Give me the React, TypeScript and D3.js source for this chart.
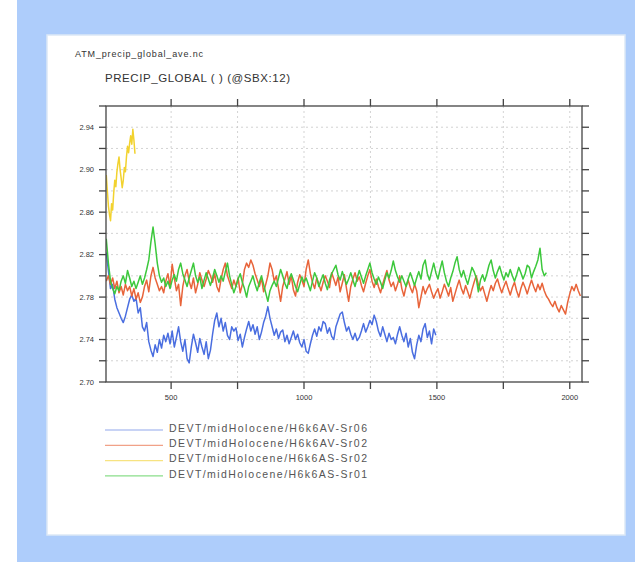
import React, { useEffect, useRef } from "react";
import * as d3 from "d3";

// yearly-mean global precip, sampled every few model years
const blueStart = 256, blueStep = 8;
const blueVals = [
  2.822, 2.805, 2.788, 2.792, 2.778, 2.770, 2.765, 2.760, 2.756, 2.762, 2.770, 2.778, 2.782, 2.776, 2.779, 2.765,
  2.770, 2.752, 2.748, 2.756, 2.738, 2.730, 2.724, 2.735, 2.728, 2.740, 2.732, 2.744, 2.738, 2.746, 2.736, 2.748,
  2.733, 2.742, 2.752, 2.738, 2.729, 2.740, 2.722, 2.718, 2.733, 2.745, 2.737, 2.728, 2.741, 2.733, 2.726, 2.738,
  2.722, 2.730, 2.745, 2.758, 2.765, 2.752, 2.760, 2.748, 2.756, 2.744, 2.740, 2.752, 2.748, 2.751, 2.739, 2.745,
  2.733, 2.742, 2.750, 2.757, 2.748, 2.754, 2.745, 2.752, 2.740, 2.747, 2.756, 2.762, 2.771, 2.760, 2.752, 2.744,
  2.750, 2.741, 2.747, 2.749, 2.738, 2.744, 2.736, 2.742, 2.748, 2.740, 2.745, 2.737, 2.733, 2.740, 2.729, 2.727,
  2.736, 2.744, 2.750, 2.743, 2.752, 2.748, 2.757, 2.755, 2.746, 2.751, 2.743, 2.740, 2.752, 2.758, 2.764, 2.766,
  2.756, 2.748, 2.752, 2.745, 2.740, 2.746, 2.739, 2.742, 2.748, 2.755, 2.747, 2.752, 2.758, 2.754, 2.763, 2.757,
  2.748, 2.743, 2.752, 2.745, 2.738, 2.746, 2.740, 2.742, 2.736, 2.745, 2.752, 2.744, 2.738, 2.746, 2.733, 2.741,
  2.728, 2.722, 2.735, 2.744, 2.738, 2.750, 2.755, 2.742, 2.748, 2.736, 2.750, 2.744,
];

const redStart = 256, redStep = 8;
const redVals = [
  2.795, 2.800, 2.792, 2.798, 2.788, 2.795, 2.784, 2.790, 2.782, 2.792, 2.786, 2.790, 2.781, 2.788, 2.778, 2.784,
  2.775, 2.780, 2.790, 2.796, 2.785, 2.800, 2.808, 2.798, 2.792, 2.786, 2.790, 2.784, 2.795, 2.802, 2.790, 2.811,
  2.798, 2.786, 2.792, 2.772, 2.790, 2.800, 2.806, 2.795, 2.788, 2.798, 2.784, 2.792, 2.803, 2.796, 2.790, 2.797,
  2.805, 2.800, 2.794, 2.802, 2.790, 2.785, 2.797, 2.806, 2.812, 2.800, 2.794, 2.788, 2.796, 2.790, 2.798, 2.784,
  2.792, 2.806, 2.812, 2.808, 2.815, 2.810, 2.802, 2.796, 2.790, 2.798, 2.785, 2.792, 2.800, 2.812, 2.806, 2.795,
  2.800, 2.788, 2.776, 2.790, 2.797, 2.804, 2.792, 2.800, 2.787, 2.781, 2.794, 2.801, 2.796, 2.790, 2.806, 2.815,
  2.802, 2.794, 2.788, 2.798, 2.792, 2.786, 2.794, 2.800, 2.795, 2.789, 2.803, 2.797, 2.791, 2.799, 2.785, 2.793,
  2.801, 2.788, 2.776, 2.790, 2.797, 2.803, 2.795, 2.799, 2.791, 2.785, 2.793, 2.800, 2.806, 2.795, 2.789, 2.797,
  2.790, 2.784, 2.792, 2.799, 2.805, 2.796, 2.790, 2.794, 2.786, 2.792, 2.800, 2.788, 2.781, 2.790, 2.796, 2.789,
  2.784, 2.792, 2.786, 2.770, 2.780, 2.790, 2.783, 2.788, 2.792, 2.785, 2.779, 2.784, 2.788, 2.779, 2.785, 2.792,
  2.787, 2.781, 2.789, 2.776, 2.783, 2.790, 2.796, 2.788, 2.783, 2.791, 2.785, 2.779, 2.787, 2.794, 2.800, 2.792,
  2.786, 2.790, 2.783, 2.776, 2.784, 2.791, 2.786, 2.793, 2.797, 2.790, 2.784, 2.790, 2.795, 2.788, 2.782, 2.789,
  2.794, 2.786, 2.780, 2.788, 2.794, 2.789, 2.783, 2.790, 2.796, 2.790, 2.785, 2.792, 2.787, 2.793, 2.786, 2.781,
  2.778, 2.774, 2.771, 2.776, 2.770, 2.766, 2.772, 2.768, 2.764, 2.775, 2.783, 2.790, 2.786, 2.792, 2.786, 2.781,
];

const yellowStart = 256, yellowStep = 4;
const yellowVals = [
  2.895, 2.880, 2.866, 2.858, 2.852, 2.868, 2.862, 2.878, 2.890, 2.884, 2.898, 2.906, 2.912, 2.900, 2.892, 2.883,
  2.890, 2.902, 2.898, 2.912, 2.922, 2.916, 2.925, 2.932, 2.924, 2.938, 2.928, 2.915,
];

const greenStart = 256, greenStep = 8;
const greenVals = [
  2.835, 2.812, 2.795, 2.788, 2.783, 2.790, 2.786, 2.795, 2.800, 2.793, 2.805, 2.798, 2.790, 2.795, 2.788, 2.794,
  2.800, 2.792, 2.798, 2.806, 2.815, 2.832, 2.846, 2.830, 2.812, 2.800, 2.794, 2.798, 2.790, 2.795, 2.788, 2.796,
  2.801, 2.795, 2.806, 2.812, 2.802, 2.796, 2.790, 2.798, 2.805, 2.812, 2.800, 2.794, 2.799, 2.788, 2.796, 2.803,
  2.797, 2.791, 2.798, 2.806, 2.800, 2.794, 2.800, 2.795, 2.804, 2.812, 2.800, 2.792, 2.784, 2.790, 2.797, 2.802,
  2.794, 2.788, 2.780, 2.790, 2.795, 2.800, 2.792, 2.786, 2.794, 2.800, 2.792, 2.784, 2.776, 2.786, 2.791, 2.795,
  2.790, 2.798, 2.806, 2.800, 2.793, 2.788, 2.797, 2.802, 2.796, 2.790, 2.785, 2.792, 2.799, 2.794, 2.798, 2.792,
  2.786, 2.795, 2.803, 2.798, 2.790, 2.796, 2.801, 2.793, 2.787, 2.796, 2.802, 2.806, 2.810, 2.801, 2.796, 2.804,
  2.798, 2.792, 2.797, 2.803, 2.796, 2.790, 2.798, 2.805, 2.799, 2.793, 2.800, 2.806, 2.812, 2.803, 2.797, 2.792,
  2.799, 2.794, 2.788, 2.796, 2.803, 2.798, 2.805, 2.814, 2.805, 2.799, 2.794, 2.800, 2.795, 2.790, 2.797, 2.803,
  2.797, 2.791, 2.798, 2.804, 2.797, 2.810, 2.815, 2.802, 2.796, 2.804, 2.812, 2.803, 2.797, 2.806, 2.814, 2.803,
  2.795, 2.790, 2.798, 2.804, 2.812, 2.818, 2.806, 2.799, 2.805, 2.798, 2.792, 2.800, 2.808, 2.804, 2.798, 2.785,
  2.796, 2.801, 2.795, 2.802, 2.810, 2.815, 2.805, 2.798, 2.804, 2.809, 2.802, 2.796, 2.803, 2.799, 2.806, 2.800,
  2.795, 2.801, 2.808, 2.803, 2.797, 2.802, 2.810, 2.808, 2.798, 2.804, 2.809, 2.815, 2.826, 2.806, 2.800, 2.803,
];

const seriesNames = [
  "DEVT/midHolocene/H6k6AV-Sr06",
  "DEVT/midHolocene/H6k6AV-Sr02",
  "DEVT/midHolocene/H6k6AS-Sr02",
  "DEVT/midHolocene/H6k6AS-Sr01",
];
const seriesColors = ["#4a6ee0", "#e8643a", "#f2d22e", "#3cc83c"];

const xMajorTicks = [500, 1000, 1500, 2000];
const xMinorTicks = [500, 750, 1000, 1250, 1500, 1750, 2000];
const yMajorTicks = [2.70, 2.74, 2.78, 2.82, 2.86, 2.90, 2.94];
const yMinorTicks = [2.70, 2.72, 2.74, 2.76, 2.78, 2.80, 2.82, 2.84, 2.86, 2.88, 2.90, 2.92, 2.94, 2.96];

const fileTitle = "ATM_precip_global_ave.nc";
const varTitle = "PRECIP_GLOBAL ( ) (@SBX:12)";

const App = () => {
  const svgRef = useRef<SVGSVGElement>(null);

  useEffect(() => {
    const width = 635;
    const height = 562;
    const plot = { left: 106, right: 582, top: 106, bottom: 382 };
    const font = "'Liberation Sans', Arial, sans-serif";

    const svg = d3.select(svgRef.current);
    svg.selectAll("*").remove();
    svg.attr("width", width).attr("height", height);

    // page background + panel
    svg.append("rect").attr("x", 17).attr("y", 0).attr("width", width - 17).attr("height", height).attr("fill", "#aecdfb");
    svg.append("rect").attr("x", 47).attr("y", 35).attr("width", 578).attr("height", 500)
      .attr("fill", "#ffffff").attr("stroke", "#dce8f6").attr("stroke-width", 1.5);

    const x = d3.scaleLinear().domain([255, 2046]).range([plot.left, plot.right]);
    const y = d3.scaleLinear().domain([2.70, 2.96]).range([plot.bottom, plot.top]);

    // grid
    const grid = svg.append("g").attr("stroke", "#c8c8c8").attr("stroke-width", 0.8).attr("stroke-dasharray", "2,3");
    grid.selectAll(".gx").data(xMinorTicks).join("line")
      .attr("x1", d => x(d)).attr("x2", d => x(d)).attr("y1", plot.top).attr("y2", plot.bottom);
    grid.selectAll(".gy").data(yMinorTicks.filter(d => d > 2.705 && d < 2.955)).join("line")
      .attr("y1", d => y(d)).attr("y2", d => y(d)).attr("x1", plot.left).attr("x2", plot.right);

    // series
    const toPts = (start: number, step: number, vals: number[]) => vals.map((v, i) => [start + step * i, v] as [number, number]);
    const all = [
      toPts(blueStart, blueStep, blueVals),
      toPts(redStart, redStep, redVals),
      toPts(yellowStart, yellowStep, yellowVals),
      toPts(greenStart, greenStep, greenVals),
    ];
    const line = d3.line<[number, number]>().x(d => x(d[0])).y(d => y(d[1]));
    const clip = svg.append("clipPath").attr("id", "plotclip");
    clip.append("rect").attr("x", plot.left).attr("y", plot.top).attr("width", plot.right - plot.left).attr("height", plot.bottom - plot.top);
    const lines = svg.append("g").attr("clip-path", "url(#plotclip)");
    all.forEach((pts, i) => {
      lines.append("path").attr("d", line(pts)).attr("fill", "none")
        .attr("stroke", seriesColors[i]).attr("stroke-width", 1.5).attr("stroke-linejoin", "round");
    });

    // frame and ticks (outward on all four sides)
    const axis = svg.append("g").attr("stroke", "#444").attr("stroke-width", 1.3);
    axis.append("rect").attr("x", plot.left).attr("y", plot.top)
      .attr("width", plot.right - plot.left).attr("height", plot.bottom - plot.top).attr("fill", "none");
    const tl = 7;
    axis.selectAll(".tb").data(xMinorTicks).join("line")
      .attr("x1", d => x(d)).attr("x2", d => x(d)).attr("y1", plot.bottom).attr("y2", plot.bottom + tl);
    axis.selectAll(".tt").data(xMinorTicks).join("line")
      .attr("x1", d => x(d)).attr("x2", d => x(d)).attr("y1", plot.top).attr("y2", plot.top - tl);
    axis.selectAll(".tlft").data(yMinorTicks).join("line")
      .attr("y1", d => y(d)).attr("y2", d => y(d)).attr("x1", plot.left).attr("x2", plot.left - tl);
    axis.selectAll(".trgt").data(yMinorTicks).join("line")
      .attr("y1", d => y(d)).attr("y2", d => y(d)).attr("x1", plot.right).attr("x2", plot.right + tl);

    // tick labels
    svg.selectAll(".ylab").data(yMajorTicks).join("text")
      .attr("x", 94).attr("y", d => y(d)).attr("dy", "0.35em").attr("text-anchor", "end")
      .attr("font-family", font).attr("font-size", 7.5).attr("fill", "#333")
      .text(d => d.toFixed(2));
    svg.selectAll(".xlab").data(xMajorTicks).join("text")
      .attr("x", d => x(d)).attr("y", 397).attr("dy", "0.35em").attr("text-anchor", "middle")
      .attr("font-family", font).attr("font-size", 7.5).attr("fill", "#333")
      .text(d => String(d));

    // titles
    svg.append("text").attr("x", 75).attr("y", 54).attr("dy", "0.35em")
      .attr("font-family", font).attr("font-size", 9).attr("fill", "#333")
      .attr("textLength", 128).text(fileTitle);
    svg.append("text").attr("x", 105).attr("y", 78).attr("dy", "0.35em")
      .attr("font-family", font).attr("font-size", 11.5).attr("fill", "#333")
      .attr("textLength", 185).text(varTitle);

    // legend
    seriesNames.forEach((name, i) => {
      const ly = 428 + i * 15.3;
      svg.append("line").attr("x1", 105).attr("x2", 163).attr("y1", ly + 2).attr("y2", ly + 2)
        .attr("stroke", seriesColors[i]).attr("stroke-width", 1.2).attr("opacity", 0.6);
      svg.append("text").attr("x", 169).attr("y", ly).attr("dy", "0.35em")
        .attr("font-family", font).attr("font-size", 10.5).attr("fill", "#555")
        .attr("textLength", 198).text(name);
    });
  }, []);

  return (
    <div style={{ position: "absolute", left: 0, top: 0 }}>
      <svg ref={svgRef} style={{ display: "block" }} />
    </div>
  );
};

export default App;
